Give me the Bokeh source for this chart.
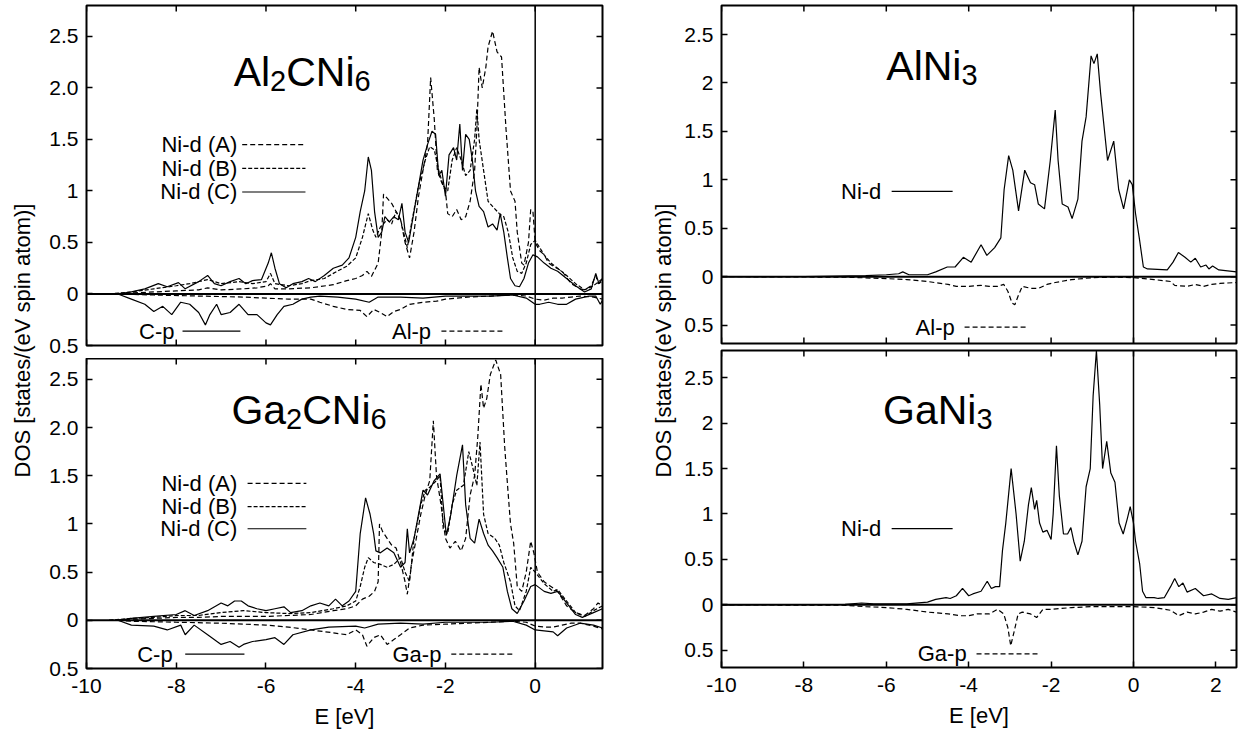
import math
from bokeh.plotting import figure
from bokeh.layouts import row, column
from bokeh.models import Range1d, FixedTicker, Span, Label
from bokeh.embed import file_html
from bokeh.resources import INLINE

FONT = "Liberation Sans"

# ---------------- data: Al2CNi6 ----------------
al2cni6_nid_a_E = [-9.5,-9.0,-8.5,-8.0,-7.5,-7.3,-7.0,-6.5,-6.2,-5.95,-5.9,-5.8,-5.5,-5.0,-4.5,-4.2,-4.0,-3.85,-3.75,-3.65,-3.5,-3.42,-3.38,-3.3,-3.2,-3.1,-3.0,-2.9,-2.8,-2.7,-2.6,-2.5,-2.4,-2.33,-2.25,-2.18,-2.1,-2.0,-1.95,-1.85,-1.75,-1.65,-1.55,-1.45,-1.35,-1.3,-1.25,-1.18,-1.1,-1.05,-0.95,-0.85,-0.75,-0.65,-0.55,-0.45,-0.4,-0.3,-0.25,-0.15,-0.1,-0.05,0.0,0.1,0.2,0.3,0.4,0.6,0.8,1.0,1.1,1.25,1.35,1.4,1.5]
al2cni6_nid_a = [0.0,0.01,0.02,0.03,0.04,0.06,0.04,0.05,0.06,0.08,0.1,0.05,0.05,0.06,0.09,0.13,0.15,0.18,0.22,0.17,0.3,0.6,0.97,0.93,0.88,0.8,0.72,0.5,0.35,0.6,0.95,1.2,1.45,2.1,1.7,1.2,1.1,1.0,0.78,0.75,0.82,0.72,0.75,0.9,1.2,1.6,2.2,2.0,2.2,2.4,2.55,2.35,2.3,1.6,1.0,0.9,0.6,0.3,0.28,0.5,0.82,0.8,0.5,0.42,0.38,0.3,0.27,0.22,0.1,0.05,0.04,0.08,0.18,0.1,0.12]
al2cni6_nid_b_E = [-9.5,-9.0,-8.5,-8.0,-7.7,-7.3,-7.0,-6.6,-6.3,-6.0,-5.9,-5.8,-5.5,-5.2,-5.0,-4.7,-4.5,-4.2,-4.0,-3.85,-3.72,-3.62,-3.55,-3.45,-3.3,-3.2,-3.1,-3.0,-2.85,-2.75,-2.6,-2.45,-2.35,-2.25,-2.15,-2.05,-1.95,-1.85,-1.75,-1.65,-1.55,-1.45,-1.35,-1.3,-1.25,-1.15,-1.05,-0.95,-0.8,-0.7,-0.6,-0.5,-0.4,-0.3,-0.2,-0.1,0.0,0.1,0.2,0.35,0.5,0.7,0.9,1.1,1.3,1.5]
al2cni6_nid_b = [0.0,0.02,0.05,0.08,0.1,0.14,0.1,0.12,0.1,0.12,0.2,0.1,0.08,0.1,0.13,0.15,0.2,0.27,0.35,0.55,0.78,0.62,0.55,0.65,0.72,0.68,0.8,0.72,0.45,0.7,1.05,1.3,1.43,1.4,1.2,1.05,1.0,1.3,1.42,1.3,1.15,1.2,1.5,1.8,1.5,1.2,0.9,0.85,0.78,0.75,0.6,0.35,0.22,0.2,0.3,0.48,0.52,0.45,0.38,0.3,0.25,0.18,0.1,0.04,0.08,0.15]
al2cni6_nid_c_E = [-9.3,-9.0,-8.7,-8.4,-8.2,-7.95,-7.8,-7.5,-7.3,-7.15,-7.0,-6.8,-6.6,-6.45,-6.3,-6.1,-5.95,-5.88,-5.8,-5.7,-5.55,-5.4,-5.2,-5.05,-4.9,-4.7,-4.5,-4.3,-4.15,-4.0,-3.9,-3.8,-3.72,-3.65,-3.58,-3.5,-3.42,-3.35,-3.25,-3.15,-3.05,-2.97,-2.9,-2.82,-2.72,-2.6,-2.5,-2.4,-2.3,-2.22,-2.15,-2.08,-2.0,-1.92,-1.82,-1.75,-1.68,-1.62,-1.55,-1.47,-1.4,-1.33,-1.25,-1.15,-1.05,-0.95,-0.85,-0.78,-0.7,-0.62,-0.55,-0.45,-0.35,-0.25,-0.15,-0.05,0.05,0.2,0.35,0.5,0.7,0.9,1.1,1.25,1.35,1.42,1.5]
al2cni6_nid_c = [0.0,0.02,0.05,0.1,0.07,0.11,0.05,0.12,0.18,0.1,0.08,0.12,0.15,0.1,0.13,0.14,0.3,0.4,0.25,0.1,0.06,0.1,0.12,0.15,0.12,0.18,0.25,0.28,0.35,0.55,0.8,1.0,1.33,1.2,0.8,0.55,0.6,0.75,0.7,0.75,0.72,0.88,0.6,0.5,0.75,1.05,1.3,1.45,1.58,1.55,1.15,1.2,0.95,1.35,1.42,1.3,1.65,1.2,1.55,1.5,1.3,1.0,0.85,0.8,0.65,0.68,0.62,0.78,0.6,0.35,0.15,0.08,0.07,0.15,0.3,0.38,0.36,0.3,0.25,0.22,0.15,0.08,0.02,0.05,0.2,0.1,0.15]
al2cni6_cp_E = [-9.3,-9.0,-8.7,-8.5,-8.3,-8.1,-7.9,-7.7,-7.5,-7.35,-7.25,-7.1,-7.0,-6.8,-6.6,-6.4,-6.2,-6.0,-5.9,-5.75,-5.6,-5.4,-5.2,-5.0,-4.8,-4.4,-4.0,-3.7,-3.5,-3.0,-2.5,-2.0,-1.5,-1.0,-0.5,-0.2,0.0,0.1,0.3,0.5,0.7,0.9,1.2,1.35,1.45,1.5]
al2cni6_cp = [0.0,0.05,0.1,0.17,0.12,0.2,0.08,0.1,0.18,0.3,0.2,0.1,0.2,0.18,0.1,0.2,0.2,0.28,0.3,0.2,0.12,0.1,0.05,0.03,0.02,0.03,0.05,0.08,0.03,0.03,0.04,0.02,0.02,0.02,0.01,0.04,0.1,0.1,0.08,0.1,0.1,0.05,0.02,0.02,0.1,0.06]
al2cni6_alp_E = [-9.3,-8.5,-7.5,-6.5,-6.0,-5.5,-5.0,-4.8,-4.5,-4.2,-3.9,-3.75,-3.6,-3.45,-3.3,-3.15,-3.0,-2.8,-2.5,-2.2,-2.0,-1.5,-1.0,-0.5,-0.2,0.0,0.2,0.4,0.6,0.8,1.0,1.3,1.5]
al2cni6_alp = [0.0,0.01,0.02,0.03,0.04,0.05,0.05,0.08,0.12,0.15,0.16,0.22,0.15,0.18,0.22,0.17,0.15,0.1,0.08,0.07,0.05,0.03,0.02,0.01,0.02,0.05,0.06,0.04,0.04,0.03,0.02,0.03,0.05]

# ---------------- data: Ga2CNi6 ----------------
ga2cni6_nid_a_E = [-9.5,-9.0,-8.5,-8.0,-7.5,-7.0,-6.5,-6.0,-5.5,-5.0,-4.5,-4.2,-4.0,-3.85,-3.7,-3.58,-3.5,-3.47,-3.4,-3.3,-3.2,-3.1,-3.0,-2.9,-2.85,-2.75,-2.65,-2.55,-2.45,-2.35,-2.27,-2.2,-2.1,-2.0,-1.9,-1.78,-1.65,-1.55,-1.45,-1.35,-1.28,-1.21,-1.15,-1.08,-1.0,-0.88,-0.77,-0.68,-0.6,-0.55,-0.48,-0.4,-0.3,-0.2,-0.1,-0.03,0.05,0.2,0.35,0.5,0.7,0.9,1.1,1.3,1.4,1.5]
ga2cni6_nid_a = [0.0,0.01,0.02,0.03,0.03,0.04,0.04,0.04,0.05,0.06,0.1,0.12,0.15,0.22,0.25,0.3,0.4,1.0,0.92,0.85,0.78,0.75,0.6,0.4,0.27,0.6,0.85,1.1,1.3,1.45,2.07,1.5,1.2,0.85,0.75,0.82,0.72,0.85,1.3,1.5,1.9,2.45,2.2,2.3,2.55,2.7,2.55,1.8,1.3,1.0,0.8,0.35,0.3,0.5,0.82,0.7,0.5,0.4,0.35,0.3,0.15,0.08,0.05,0.12,0.18,0.15]
ga2cni6_nid_b_E = [-9.5,-9.0,-8.5,-8.0,-7.5,-7.0,-6.5,-6.0,-5.5,-5.0,-4.5,-4.2,-4.0,-3.9,-3.8,-3.72,-3.6,-3.45,-3.3,-3.15,-3.0,-2.9,-2.8,-2.7,-2.55,-2.45,-2.35,-2.2,-2.12,-2.05,-1.95,-1.85,-1.75,-1.6,-1.48,-1.4,-1.3,-1.23,-1.15,-1.05,-0.9,-0.8,-0.7,-0.55,-0.45,-0.35,-0.2,-0.1,0.0,0.2,0.4,0.5,0.7,0.9,1.1,1.3,1.5]
ga2cni6_nid_b = [0.0,0.02,0.03,0.05,0.05,0.08,0.1,0.08,0.07,0.08,0.12,0.15,0.2,0.35,0.55,0.65,0.6,0.58,0.55,0.58,0.65,0.5,0.4,0.85,1.2,1.35,1.38,1.45,1.5,0.95,0.9,1.2,1.35,1.4,1.75,1.6,1.4,1.85,1.1,0.9,0.85,0.78,0.6,0.4,0.15,0.1,0.3,0.55,0.5,0.38,0.3,0.32,0.2,0.08,0.04,0.1,0.15]
ga2cni6_nid_c_E = [-9.3,-9.0,-8.5,-8.0,-7.8,-7.6,-7.3,-7.0,-6.85,-6.7,-6.55,-6.4,-6.2,-6.0,-5.8,-5.6,-5.45,-5.2,-5.0,-4.8,-4.6,-4.45,-4.3,-4.15,-4.0,-3.9,-3.78,-3.68,-3.6,-3.55,-3.45,-3.3,-3.15,-3.0,-2.9,-2.85,-2.8,-2.7,-2.6,-2.5,-2.4,-2.25,-2.12,-2.05,-1.98,-1.88,-1.75,-1.62,-1.55,-1.45,-1.35,-1.25,-1.15,-1.05,-0.95,-0.85,-0.72,-0.62,-0.52,-0.4,-0.25,-0.1,0.0,0.2,0.35,0.5,0.7,0.9,1.05,1.3,1.5]
ga2cni6_nid_c = [0.0,0.02,0.04,0.06,0.1,0.05,0.1,0.18,0.15,0.2,0.2,0.15,0.12,0.1,0.12,0.14,0.08,0.1,0.15,0.18,0.15,0.22,0.15,0.2,0.3,0.9,1.27,1.1,0.9,0.72,0.7,0.75,0.7,0.55,0.6,0.95,0.7,0.85,1.1,1.35,1.3,1.45,1.52,1.2,0.88,1.1,1.5,1.82,1.2,0.85,0.8,1.05,0.9,0.78,0.72,0.65,0.55,0.3,0.12,0.07,0.2,0.35,0.37,0.3,0.28,0.3,0.18,0.06,0.03,0.08,0.12]
ga2cni6_cp_E = [-9.3,-9.0,-8.5,-8.2,-7.9,-7.8,-7.6,-7.3,-7.0,-6.8,-6.6,-6.5,-6.3,-6.0,-5.8,-5.6,-5.4,-5.0,-4.6,-4.0,-3.8,-3.5,-3.0,-2.5,-2.0,-1.0,-0.5,-0.2,0.0,0.2,0.4,0.5,0.7,1.0,1.3,1.5]
ga2cni6_cp = [0.0,0.05,0.06,0.1,0.05,0.15,0.05,0.15,0.25,0.22,0.28,0.25,0.22,0.2,0.18,0.25,0.15,0.1,0.07,0.06,0.08,0.04,0.03,0.04,0.02,0.02,0.01,0.05,0.1,0.11,0.12,0.16,0.08,0.03,0.05,0.08]
ga2cni6_gap_E = [-9.3,-9.0,-8.0,-7.0,-6.0,-5.5,-5.0,-4.5,-4.2,-4.0,-3.85,-3.75,-3.6,-3.45,-3.3,-3.15,-3.0,-2.8,-2.5,-2.0,-1.5,-1.0,-0.5,-0.2,0.0,0.2,0.4,0.6,0.8,1.0,1.3,1.5]
ga2cni6_gap = [0.0,0.01,0.02,0.03,0.05,0.07,0.1,0.13,0.15,0.1,0.15,0.27,0.18,0.15,0.25,0.2,0.15,0.08,0.05,0.04,0.03,0.02,0.01,0.02,0.06,0.07,0.07,0.05,0.03,0.03,0.06,0.09]

# ---------------- data: AlNi3 ----------------
alni3_nid_E = [-10.0,-8.0,-6.5,-6.0,-5.7,-5.6,-5.45,-5.0,-4.8,-4.52,-4.33,-4.13,-3.94,-3.7,-3.56,-3.37,-3.22,-3.14,-3.03,-2.93,-2.79,-2.64,-2.5,-2.4,-2.31,-2.16,-2.02,-1.9,-1.83,-1.73,-1.59,-1.49,-1.35,-1.25,-1.15,-1.03,-0.96,-0.88,-0.8,-0.63,-0.48,-0.36,-0.24,-0.1,-0.03,0.05,0.14,0.24,0.34,0.82,0.96,1.09,1.25,1.39,1.5,1.63,1.76,1.83,1.92,2.07,2.5]
alni3_nid = [0.0,0.002,0.01,0.02,0.03,0.05,0.02,0.02,0.05,0.1,0.1,0.2,0.15,0.33,0.22,0.3,0.4,0.9,1.25,1.1,0.68,1.1,0.97,0.95,0.75,0.7,1.2,1.72,1.2,0.75,0.72,0.6,0.8,1.4,1.65,2.28,2.2,2.3,1.9,1.2,1.4,0.9,0.7,1.0,0.95,0.65,0.4,0.1,0.08,0.07,0.15,0.25,0.2,0.15,0.19,0.1,0.12,0.08,0.11,0.07,0.05]
alni3_alp_E = [-10.0,-7.0,-6.0,-5.5,-5.0,-4.5,-4.3,-4.0,-3.7,-3.5,-3.3,-3.15,-3.05,-2.95,-2.88,-2.8,-2.7,-2.5,-2.3,-2.1,-1.9,-1.5,-1.0,-0.5,0.0,0.5,0.9,1.0,1.3,1.5,1.7,1.9,2.1,2.5]
alni3_alp = [0.0,0.005,0.02,0.03,0.05,0.08,0.1,0.1,0.09,0.1,0.1,0.08,0.15,0.27,0.29,0.2,0.1,0.12,0.12,0.08,0.06,0.03,0.01,0.005,0.01,0.03,0.05,0.09,0.1,0.08,0.1,0.08,0.07,0.06]

# ---------------- data: GaNi3 ----------------
gani3_nid_E = [-10.0,-7.0,-6.6,-6.3,-6.0,-5.5,-5.0,-4.8,-4.55,-4.45,-4.3,-4.15,-4.0,-3.9,-3.7,-3.55,-3.45,-3.35,-3.25,-3.18,-3.1,-2.97,-2.85,-2.75,-2.65,-2.55,-2.48,-2.4,-2.35,-2.28,-2.2,-2.1,-2.0,-1.95,-1.87,-1.8,-1.7,-1.6,-1.52,-1.45,-1.35,-1.25,-1.15,-1.05,-0.98,-0.9,-0.82,-0.75,-0.65,-0.55,-0.45,-0.35,-0.25,-0.15,-0.08,0.0,0.05,0.15,0.22,0.3,0.5,0.6,0.75,0.9,1.0,1.1,1.2,1.3,1.5,1.7,1.9,2.1,2.3,2.5]
gani3_nid = [0.0,0.005,0.02,0.01,0.01,0.01,0.03,0.06,0.08,0.07,0.1,0.18,0.1,0.12,0.15,0.26,0.18,0.2,0.2,0.6,0.9,1.5,1.0,0.48,0.7,1.1,1.29,1.05,1.15,0.9,0.8,0.82,0.72,1.0,1.75,1.2,0.78,0.78,0.85,0.7,0.55,0.7,1.3,1.5,2.3,2.8,2.2,1.5,1.8,1.45,1.35,0.9,0.78,0.95,1.08,0.9,0.7,0.45,0.15,0.08,0.08,0.07,0.08,0.2,0.29,0.2,0.24,0.14,0.18,0.1,0.12,0.07,0.06,0.08]
gani3_gap_E = [-10.0,-7.0,-6.5,-6.0,-5.5,-5.0,-4.5,-4.2,-4.0,-3.8,-3.5,-3.3,-3.15,-3.05,-2.98,-2.9,-2.8,-2.7,-2.5,-2.35,-2.2,-2.0,-1.5,-1.0,-0.5,0.0,0.5,0.9,1.1,1.3,1.5,1.7,1.9,2.1,2.3,2.5]
gani3_gap = [0.0,0.005,0.02,0.03,0.05,0.08,0.1,0.12,0.12,0.1,0.1,0.05,0.1,0.25,0.45,0.3,0.1,0.08,0.1,0.14,0.05,0.05,0.03,0.02,0.02,0.02,0.03,0.06,0.12,0.08,0.1,0.08,0.05,0.07,0.05,0.08]

# ---------------- tick labels ----------------
x_ticks_left = [-10, -8, -6, -4, -2, 0]
x_ticks_right = [-10, -8, -6, -4, -2, 0, 2]
x_tick_text = {-10: "-10", -8: "-8", -6: "-6", -4: "-4", -2: "-2", 0: "0", 2: "2"}
y_ticks = [-0.5, 0, 0.5, 1, 1.5, 2, 2.5]
y_tick_text_left = {-0.5: "0.5", 0: "0", 0.5: "0.5", 1: "1", 1.5: "1.5", 2: "2.0", 2.5: "2.5"}
y_tick_text_right = {-0.5: "0.5", 0: "0", 0.5: "0.5", 1: "1", 1.5: "1.5", 2: "2", 2.5: "2.5"}

TICK_FS = "21px"
TEXT_FS = "22px"


def style_axis(ax, ticks, overrides, standoff):
    ax.ticker = FixedTicker(ticks=ticks)
    ax.major_label_overrides = {k: overrides[k] for k in ticks}
    ax.axis_line_color = None
    ax.major_tick_in = 6
    ax.major_tick_out = 0
    ax.major_tick_line_width = 1.5
    ax.major_tick_line_color = "black"
    ax.minor_tick_line_color = None
    ax.major_label_text_font = FONT
    ax.major_label_text_color = "black"
    ax.major_label_text_font_size = TICK_FS
    ax.major_label_standoff = standoff


def mirror_ticks(p, xr, yr, xticks, bottom_too):
    # inward tick marks on the sides that carry no labels
    n = len(xticks)
    yt = [t for t in y_ticks if yr[0] <= t <= yr[1]]
    p.scatter(xticks, [yr[1]] * n, marker="dash", size=12, angle=math.pi / 2,
              line_color="black", line_width=1.5)
    if bottom_too:
        p.scatter(xticks, [yr[0]] * n, marker="dash", size=12, angle=math.pi / 2,
                  line_color="black", line_width=1.5)
    p.scatter([xr[1]] * len(yt), yt, marker="dash", size=12,
              line_color="black", line_width=1.5)


def make_panel(w, h, mb, xr, yr, xticks, ytext, show_x):
    p = figure(width=w, height=h, x_range=Range1d(*xr), y_range=Range1d(*yr),
               output_backend="svg", toolbar_location=None,
               x_axis_location=("below" if show_x else None), y_axis_location="left",
               min_border_left=mb[0], min_border_right=mb[1],
               min_border_top=mb[2], min_border_bottom=mb[3])
    p.grid.visible = False
    p.outline_line_color = "black"
    p.outline_line_width = 2
    p.background_fill_color = "white"
    p.border_fill_color = "white"
    style_axis(p.yaxis[0], y_ticks, ytext, 8)
    if show_x:
        xa = p.xaxis[0]
        style_axis(xa, xticks, x_tick_text, 10)
        xa.axis_label = "E [eV]"
        xa.axis_label_text_font = FONT
        xa.axis_label_text_font_size = TEXT_FS
        xa.axis_label_text_font_style = "normal"
        xa.axis_label_text_color = "black"
        xa.axis_label_standoff = 8
    mirror_ticks(p, xr, yr, xticks, not show_x)
    p.add_layout(Span(location=0, dimension="width", line_color="black", line_width=2))
    p.add_layout(Span(location=0, dimension="height", line_color="black", line_width=1.5))
    return p


def curve(p, E, v, dash="solid", neg=False):
    y = [-d for d in v] if neg else v
    p.line(E, y, line_color="black", line_width=1.2, line_dash=dash)


def key(p, text, x_text, x0, x1, y, dash):
    p.add_layout(Label(x=x_text, y=y, text=text, text_align="right", text_baseline="middle",
                       text_font=FONT, text_font_size=TEXT_FS, text_color="black"))
    p.segment(x0=x0, y0=y, x1=x1, y1=y, line_color="black", line_width=1.2, line_dash=dash)


WIDTHS = {"A": 0.667, "l": 0.222, "C": 0.722, "N": 0.722, "i": 0.222, "G": 0.778, "a": 0.556,
          "2": 0.556, "3": 0.556, "6": 0.556}


def title(p, x, y, parts):
    dx = 0.0
    for txt, sub in parts:
        size = 29 if sub else 41
        p.add_layout(Label(x=x, y=y, x_offset=dx, y_offset=(-9 if sub else 0), text=txt,
                           text_align="left", text_baseline="alphabetic",
                           text_font=FONT, text_font_size=f"{size}px", text_color="black"))
        dx += sum(WIDTHS.get(ch, 0.556) for ch in txt) * size


DASH_A = "5 3"
DASH_B = "4 2"

# ---- Al2CNi6 ----
lt = make_panel(580, 358, (46, 18, 5, 13), (-10, 1.5), (-0.5, 2.8), x_ticks_left, y_tick_text_left, False)
curve(lt, al2cni6_nid_a_E, al2cni6_nid_a, DASH_A)
curve(lt, al2cni6_nid_b_E, al2cni6_nid_b, DASH_B)
curve(lt, al2cni6_nid_c_E, al2cni6_nid_c)
curve(lt, al2cni6_cp_E, al2cni6_cp, neg=True)
curve(lt, al2cni6_alp_E, al2cni6_alp, DASH_A, neg=True)
key(lt, "Ni-d (A)", -6.64, -6.53, -5.12, 1.45, DASH_A)
key(lt, "Ni-d (B)", -6.64, -6.53, -5.12, 1.22, DASH_B)
key(lt, "Ni-d (C)", -6.64, -6.53, -5.12, 0.99, "solid")
key(lt, "C-p", -8.04, -7.86, -6.57, -0.36, "solid")
key(lt, "Al-p", -2.32, -2.09, -0.73, -0.36, DASH_A)
title(lt, -6.72, 2.15, [("Al", False), ("2", True), ("CNi", False), ("6", True)])

# ---- Ga2CNi6 ----
lb = make_panel(580, 382, (46, 18, 0, 72), (-10, 1.5), (-0.5, 2.716), x_ticks_left, y_tick_text_left, True)
curve(lb, ga2cni6_nid_a_E, ga2cni6_nid_a, DASH_A)
curve(lb, ga2cni6_nid_b_E, ga2cni6_nid_b, DASH_B)
curve(lb, ga2cni6_nid_c_E, ga2cni6_nid_c)
curve(lb, ga2cni6_cp_E, ga2cni6_cp, neg=True)
curve(lb, ga2cni6_gap_E, ga2cni6_gap, DASH_A, neg=True)
key(lb, "Ni-d (A)", -6.64, -6.41, -5.10, 1.42, DASH_A)
key(lb, "Ni-d (B)", -6.64, -6.41, -5.10, 1.18, DASH_B)
key(lb, "Ni-d (C)", -6.64, -6.41, -5.10, 0.95, "solid")
key(lb, "C-p", -8.08, -7.80, -6.48, -0.35, "solid")
key(lb, "Ga-p", -2.09, -1.87, -0.51, -0.35, DASH_A)
title(lb, -6.77, 2.18, [("Ga", False), ("2", True), ("CNi", False), ("6", True)])

# ---- AlNi3 ----
rt = make_panel(561, 347, (41, 5, 5, 4), (-10, 2.5), (-0.69, 2.8), x_ticks_right, y_tick_text_right, False)
curve(rt, alni3_nid_E, alni3_nid)
curve(rt, alni3_alp_E, alni3_alp, DASH_A, neg=True)
key(rt, "Ni-d", -6.12, -5.87, -4.39, 0.88, "solid")
key(rt, "Al-p", -4.34, -4.10, -2.57, -0.52, DASH_A)
title(rt, -6.0, 2.18, [("AlNi", False), ("3", True)])

# ---- GaNi3 ----
rb = make_panel(561, 393, (41, 5, 3, 73), (-10, 2.5), (-0.69, 2.8), x_ticks_right, y_tick_text_right, True)
curve(rb, gani3_nid_E, gani3_nid)
curve(rb, gani3_gap_E, gani3_gap, DASH_A, neg=True)
key(rb, "Ni-d", -6.12, -5.87, -4.39, 0.84, "solid")
key(rb, "Ga-p", -4.05, -3.81, -2.33, -0.54, DASH_A)
title(rb, -6.08, 2.14, [("GaNi", False), ("3", True)])


def ylabel_fig(w, h, cx, cy):
    p = figure(width=w, height=h, x_range=Range1d(0, w), y_range=Range1d(0, h),
               output_backend="svg", toolbar_location=None, min_border=0,
               x_axis_location=None, y_axis_location=None)
    p.grid.visible = False
    p.outline_line_color = None
    p.border_fill_color = "white"
    p.add_layout(Label(x=cx, y=cy, text="DOS [states/(eV spin atom)]", angle=math.pi / 2,
                       text_align="center", text_baseline="middle",
                       text_font=FONT, text_font_size=TEXT_FS, text_color="black"))
    return p


yl_left = ylabel_fig(40, 740, 22, 400)
yl_right = ylabel_fig(60, 740, 43, 400)

layout = row(yl_left, column(lt, lb), yl_right, column(rt, rb))
open("out.html", "w").write(file_html(layout, INLINE))
